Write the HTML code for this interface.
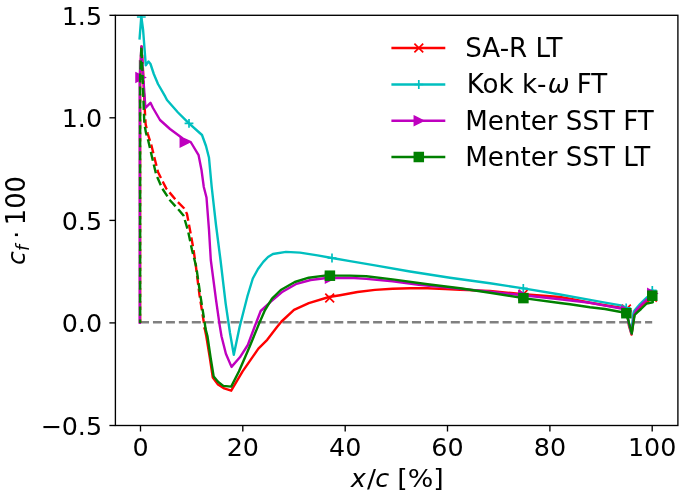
<!DOCTYPE html>
<html lang="en"><head><meta charset="utf-8"><title>Skin friction coefficient</title>
<style>html,body{margin:0;padding:0;background:#fff}svg{display:block;filter:blur(0.45px)}text{font-family:"DejaVu Sans","Liberation Sans",sans-serif;fill:#000}.it{font-style:italic}</style></head><body>
<svg width="685" height="497" viewBox="0 0 685 497">
<rect width="685" height="497" fill="#fff"/>
<defs><clipPath id="ax"><rect x="115.4" y="15.3" width="562.5" height="410.2"/></clipPath></defs>
<g clip-path="url(#ax)">
<polyline points="140.0,60.0 140.0,322.9" fill="none" stroke="#808080" stroke-width="2.4"/>
<line x1="140.0" y1="322.2" x2="652.2" y2="322.2" stroke="#808080" stroke-width="2.4" stroke-dasharray="9.04 3.91"/>
<polyline points="140.1,322.9 140.1,77.5 141.6,46.4 143.0,70.0 143.9,90.0 144.7,108.0 145.6,124.0 147.8,134.0 151.1,144.1 154.5,158.0 158.1,172.3 166.2,188.4 176.2,200.5 184.3,208.5 187.0,214.0 190.5,232.6 193.6,250.0 196.0,267.0 199.5,295.0 203.9,322.9 204.8,329.0" fill="none" stroke="#ff0000" stroke-width="2.4" stroke-linejoin="round" stroke-dasharray="9.04 3.91"/>
<polyline points="204.8,329.0 206.3,336.3 209.7,357.0 212.8,377.5 218.0,384.6 224.2,388.4 231.2,390.7 242.6,371.4 258.4,348.6 267.2,339.8 277.0,327.0 281.5,321.5 294.0,309.8 308.8,303.1 329.0,297.0 340.0,295.2 357.5,292.0 375.0,289.9 392.6,288.7 410.0,288.2 427.6,288.2 445.1,289.1 460.0,289.9 490.0,290.9 523.4,294.3 560.0,297.0 575.0,299.8 590.0,302.8 605.0,305.3 621.0,307.8 626.4,309.0 629.0,326.0 631.5,334.5 634.4,314.5 636.0,311.5 641.0,306.0 647.0,300.8 651.8,299.0 652.4,297.2" fill="none" stroke="#ff0000" stroke-width="2.4" stroke-linejoin="round" stroke-linecap="square"/>
<path d="M325.3,293.6L334.1,302.4M325.3,302.4L334.1,293.6" stroke="#ff0000" stroke-width="1.7" fill="none"/>
<path d="M518.8,289.9L527.6,298.7M518.8,298.7L527.6,289.9" stroke="#ff0000" stroke-width="1.7" fill="none"/>
<path d="M622.0,304.6L630.8,313.4M622.0,313.4L630.8,304.6" stroke="#ff0000" stroke-width="1.7" fill="none"/>
<path d="M648.0,292.8L656.8,301.6M648.0,301.6L656.8,292.8" stroke="#ff0000" stroke-width="1.7" fill="none"/>
<polyline points="139.6,38.4 141.3,16.3 143.1,30.0 145.8,65.4 148.5,61.4 150.5,64.0 153.8,74.0 158.0,84.0 165.3,96.7 167.0,100.0 178.0,112.5 189.0,123.3 202.0,135.0 206.0,146.0 209.0,157.8 211.7,187.0 216.0,225.0 220.5,260.0 225.7,303.8 230.0,333.0 233.8,354.7 239.6,327.0 247.5,296.0 252.8,278.5 258.0,269.0 263.3,261.9 268.0,257.0 272.9,254.0 286.0,251.9 300.0,252.6 317.5,255.4 332.0,258.0 350.0,261.1 375.0,265.4 410.0,271.5 450.0,277.7 490.0,283.3 523.4,288.4 560.0,294.5 590.0,299.9 605.0,302.6 621.0,305.4 626.4,307.9 628.5,322.0 631.2,332.5 633.5,313.0 634.5,310.5 640.0,304.0 644.8,299.3 647.5,296.9 651.0,294.0 652.3,290.4" fill="none" stroke="#00bfbf" stroke-width="2.4" stroke-linejoin="round" stroke-linecap="square"/>
<path d="M136.9,17.0L145.7,17.0M141.3,12.6L141.3,21.4" stroke="#00bfbf" stroke-width="1.7" fill="none"/>
<path d="M184.6,123.3L193.4,123.3M189.0,118.9L189.0,127.7" stroke="#00bfbf" stroke-width="1.7" fill="none"/>
<path d="M327.6,258.0L336.4,258.0M332.0,253.6L332.0,262.4" stroke="#00bfbf" stroke-width="1.7" fill="none"/>
<path d="M518.9,288.4L527.7,288.4M523.3,284.0L523.3,292.8" stroke="#00bfbf" stroke-width="1.7" fill="none"/>
<path d="M621.8,307.9L630.6,307.9M626.2,303.5L626.2,312.3" stroke="#00bfbf" stroke-width="1.7" fill="none"/>
<path d="M647.9,290.4L656.7,290.4M652.3,286.0L652.3,294.8" stroke="#00bfbf" stroke-width="1.7" fill="none"/>
<polyline points="139.8,322.9 139.8,77.5 141.4,46.4 143.3,78.0 145.4,107.9 150.5,102.8 153.0,108.0 160.0,120.0 170.0,129.0 182.8,138.5 190.7,142.0 198.6,155.2 201.5,170.0 203.8,187.0 206.5,197.5 209.0,230.0 210.8,260.0 216.1,300.3 219.6,324.8 221.5,336.3 225.9,353.8 231.5,366.9 239.9,357.3 247.8,345.0 254.5,327.0 260.7,311.0 270.3,302.2 282.6,291.7 296.6,283.8 310.6,280.0 324.6,278.2 350.0,277.7 366.3,278.9 392.6,281.2 418.8,284.7 450.0,287.7 490.0,291.8 523.4,295.3 560.0,299.3 590.0,302.8 605.0,305.6 621.0,308.5 626.4,310.9 629.0,324.0 631.6,333.5 634.3,314.0 636.0,310.5 641.2,304.8 647.0,299.5 651.5,296.5 652.3,293.4" fill="none" stroke="#bf00bf" stroke-width="2.4" stroke-linejoin="round" stroke-linecap="square"/>
<path d="M136.1,73.1L144.9,77.5L136.1,81.9Z" stroke="#bf00bf" stroke-width="1.7" fill="#bf00bf" stroke-linejoin="miter"/>
<path d="M180.4,137.8L189.2,142.2L180.4,146.6Z" stroke="#bf00bf" stroke-width="1.7" fill="#bf00bf" stroke-linejoin="miter"/>
<path d="M325.6,273.8L334.4,278.2L325.6,282.6Z" stroke="#bf00bf" stroke-width="1.7" fill="#bf00bf" stroke-linejoin="miter"/>
<path d="M518.9,290.9L527.7,295.3L518.9,299.7Z" stroke="#bf00bf" stroke-width="1.7" fill="#bf00bf" stroke-linejoin="miter"/>
<path d="M622.0,306.5L630.8,310.9L622.0,315.3Z" stroke="#bf00bf" stroke-width="1.7" fill="#bf00bf" stroke-linejoin="miter"/>
<path d="M647.9,289.0L656.7,293.4L647.9,297.8Z" stroke="#bf00bf" stroke-width="1.7" fill="#bf00bf" stroke-linejoin="miter"/>
<polyline points="140.1,322.9 140.1,77.5 141.4,46.4 142.4,70.0 143.1,90.0 143.7,108.0 144.4,124.0 146.0,133.0 148.1,140.1 152.0,157.0 156.1,174.3 162.2,188.4 170.2,200.5 179.3,210.5 183.5,215.5 188.0,230.8 192.0,250.0 196.3,267.0 200.3,295.0 204.7,322.9 205.6,329.0" fill="none" stroke="#008000" stroke-width="2.4" stroke-linejoin="round" stroke-dasharray="9.04 3.91" stroke-dashoffset="5.7"/>
<polyline points="205.6,329.0 207.5,336.3 210.5,357.0 213.7,376.6 218.0,381.8 223.3,385.9 231.2,386.6 239.0,371.3 249.6,346.8 260.0,321.4 265.0,310.0 272.0,298.7 280.8,290.0 294.8,282.0 308.8,277.7 324.6,275.6 350.0,275.6 366.3,276.3 392.6,279.4 427.6,284.3 460.0,288.2 490.0,292.8 523.4,298.1 560.0,303.0 570.0,304.3 590.0,307.3 605.0,309.0 621.0,312.0 626.4,313.2 629.3,324.0 631.8,333.5 634.6,315.0 637.0,312.6 641.0,309.0 646.7,303.5 652.8,302.3 652.3,295.7" fill="none" stroke="#008000" stroke-width="2.4" stroke-linejoin="round" stroke-linecap="square"/>
<rect x="325.5" y="271.3" width="8.8" height="8.8" stroke="#008000" stroke-width="1.7" fill="#008000"/>
<rect x="519.0" y="293.7" width="8.8" height="8.8" stroke="#008000" stroke-width="1.7" fill="#008000"/>
<rect x="622.0" y="308.8" width="8.8" height="8.8" stroke="#008000" stroke-width="1.7" fill="#008000"/>
<rect x="647.9" y="291.3" width="8.8" height="8.8" stroke="#008000" stroke-width="1.7" fill="#008000"/>
</g>
<rect x="115.4" y="15.3" width="562.5" height="410.2" fill="none" stroke="#000" stroke-width="1.35"/>
<line x1="140.5" y1="425.5" x2="140.5" y2="431.5" stroke="#000" stroke-width="1.35"/>
<text transform="translate(140.5,455.7) scale(1.0,1)" font-size="25.4" text-anchor="middle">0</text>
<line x1="242.8" y1="425.5" x2="242.8" y2="431.5" stroke="#000" stroke-width="1.35"/>
<text transform="translate(242.8,455.7) scale(1.0,1)" font-size="25.4" text-anchor="middle">20</text>
<line x1="345.2" y1="425.5" x2="345.2" y2="431.5" stroke="#000" stroke-width="1.35"/>
<text transform="translate(345.2,455.7) scale(1.0,1)" font-size="25.4" text-anchor="middle">40</text>
<line x1="447.5" y1="425.5" x2="447.5" y2="431.5" stroke="#000" stroke-width="1.35"/>
<text transform="translate(447.5,455.7) scale(1.0,1)" font-size="25.4" text-anchor="middle">60</text>
<line x1="549.9" y1="425.5" x2="549.9" y2="431.5" stroke="#000" stroke-width="1.35"/>
<text transform="translate(549.9,455.7) scale(1.0,1)" font-size="25.4" text-anchor="middle">80</text>
<line x1="652.2" y1="425.5" x2="652.2" y2="431.5" stroke="#000" stroke-width="1.35"/>
<text transform="translate(652.2,455.7) scale(1.0,1)" font-size="25.4" text-anchor="middle">100</text>
<line x1="109.4" y1="15.3" x2="115.4" y2="15.3" stroke="#000" stroke-width="1.35"/>
<text transform="translate(102.1,24.7) scale(1.0,1)" font-size="25.4" text-anchor="end">1.5</text>
<line x1="109.4" y1="117.8" x2="115.4" y2="117.8" stroke="#000" stroke-width="1.35"/>
<text transform="translate(102.1,127.2) scale(1.0,1)" font-size="25.4" text-anchor="end">1.0</text>
<line x1="109.4" y1="220.4" x2="115.4" y2="220.4" stroke="#000" stroke-width="1.35"/>
<text transform="translate(102.1,229.8) scale(1.0,1)" font-size="25.4" text-anchor="end">0.5</text>
<line x1="109.4" y1="322.9" x2="115.4" y2="322.9" stroke="#000" stroke-width="1.35"/>
<text transform="translate(102.1,332.3) scale(1.0,1)" font-size="25.4" text-anchor="end">0.0</text>
<line x1="109.4" y1="425.5" x2="115.4" y2="425.5" stroke="#000" stroke-width="1.35"/>
<text transform="translate(102.1,434.9) scale(1.0,1)" font-size="25.4" text-anchor="end">−0.5</text>
<text transform="translate(350.8,486.8) scale(1.0,1)" font-size="25.4" text-anchor="start" class="it">x</text>
<text transform="translate(366.9,486.8) scale(1.05,1)" font-size="25.4" text-anchor="start">/</text>
<text transform="translate(375.2,486.8) scale(1.0,1)" font-size="25.4" text-anchor="start" class="it">c</text>
<text transform="translate(397.2,486.8) scale(1.06,1)" font-size="25.4" text-anchor="start">[%]</text>
<g transform="translate(25.2,263.6) rotate(-90)" font-size="25.0"><text x="-1.3" y="0" class="it">c</text><text x="12.6" y="3.4" class="it" font-size="17.50">f</text><text x="24.8" y="0">·</text><text x="38.4" y="0" font-size="25.7">100</text></g>
<line x1="392.6" y1="48.0" x2="444.1" y2="48.0" stroke="#ff0000" stroke-width="2.4" stroke-linecap="square"/>
<text transform="translate(465.3,56.8) scale(1.009,1)" font-size="25.9" text-anchor="start">SA-R LT</text>
<line x1="392.6" y1="84.5" x2="444.1" y2="84.5" stroke="#00bfbf" stroke-width="2.4" stroke-linecap="square"/>
<text transform="translate(466.7,93.3) scale(1.009,1)" font-size="25.9" text-anchor="start">Kok k-<tspan class="it" dx="1.2">ω</tspan><tspan dx="-1.2"> FT</tspan></text>
<line x1="392.6" y1="120.7" x2="444.1" y2="120.7" stroke="#bf00bf" stroke-width="2.4" stroke-linecap="square"/>
<text transform="translate(465.3,129.5) scale(1.009,1)" font-size="25.9" text-anchor="start">Menter SST FT</text>
<line x1="392.6" y1="157.0" x2="444.1" y2="157.0" stroke="#008000" stroke-width="2.4" stroke-linecap="square"/>
<text transform="translate(465.3,165.8) scale(1.009,1)" font-size="25.9" text-anchor="start">Menter SST LT</text>
<path d="M414.4,43.6L423.2,52.4M414.4,52.4L423.2,43.6" stroke="#ff0000" stroke-width="1.7" fill="none"/>
<path d="M414.4,84.5L423.2,84.5M418.8,80.1L418.8,88.9" stroke="#00bfbf" stroke-width="1.7" fill="none"/>
<path d="M414.4,116.3L423.2,120.7L414.4,125.1Z" stroke="#bf00bf" stroke-width="1.7" fill="#bf00bf" stroke-linejoin="miter"/>
<rect x="414.4" y="152.6" width="8.8" height="8.8" stroke="#008000" stroke-width="1.7" fill="#008000"/>
</svg></body></html>
